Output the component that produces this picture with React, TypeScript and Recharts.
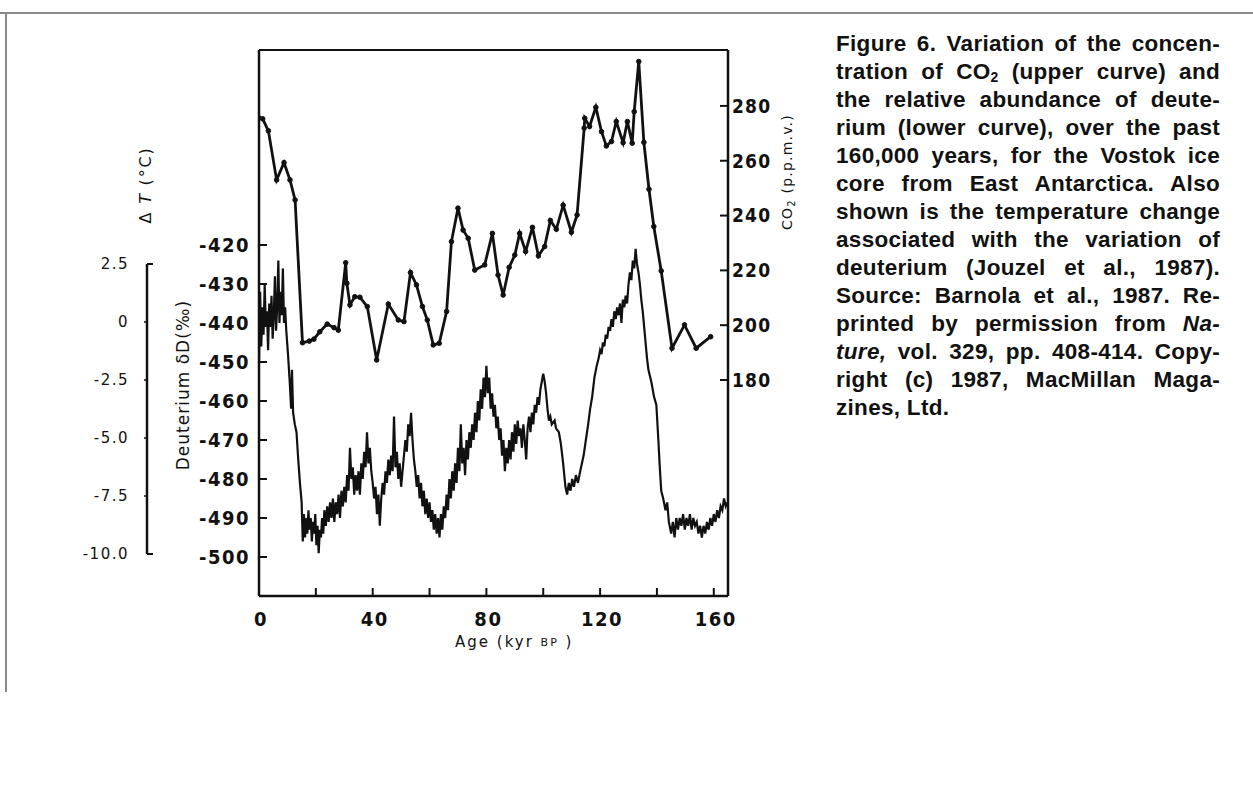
import React from 'react';
import { LineChart, Line, XAxis, YAxis } from 'recharts';

// ---------- DATA ----------
const co2Age = [0, 1.3, 3.3, 6.2, 8.8, 10.9, 12.7, 15.3, 17.7, 19.3, 21.4, 24, 26.4, 27.9, 30.5, 30.9, 32, 33.7, 35.5, 38.1, 41.4, 45.5, 49, 51, 53.3, 55.4, 57.5, 59.2, 61.3, 63.4, 66, 67.7, 70, 71.8, 73.6, 75.9, 79.4, 82.1, 84.1, 85.9, 88, 90, 91.7, 93.8, 96.2, 98.3, 100.5, 102.5, 104.6, 107, 109.9, 111.9, 114.4, 114.6, 116.3, 118.5, 120.5, 122.2, 124, 125.7, 128.1, 129.6, 131.3, 132, 133.6, 135.4, 137.2, 138.9, 141.5, 145.3, 149.7, 153.8, 158.9];
const co2Ppm = [275.6, 275.3, 270.9, 253, 259.3, 253, 245.7, 193.6, 194.2, 194.9, 197.6, 200.4, 199.1, 198.2, 222.8, 215.3, 207.4, 210.4, 210.2, 206.8, 187.3, 207.7, 201.9, 201.3, 219.2, 214.7, 206.8, 201.9, 192.8, 193.4, 205, 230.5, 242.7, 234.7, 231.7, 220.1, 222, 233.5, 218.3, 211, 221.1, 225.6, 233.5, 226.9, 235.7, 225.3, 228.7, 238.2, 235, 243.8, 233.9, 240.2, 271.9, 275.5, 272.5, 279.5, 270.6, 265.4, 267, 274.3, 266.6, 274.3, 266.4, 277.9, 296.2, 266.7, 249.6, 236, 219.8, 191.6, 200.1, 191.6, 195.8];

const deutAge = [
  0, 0.4, 0.8, 1.2, 1.6, 2, 2.4, 2.8, 3.2, 3.6, 4, 4.4, 4.8, 5.2, 5.6, 6, 6.4, 6.8, 7.2, 7.6, 8, 8.4, 8.8, 9.2, 9.6,
  10.2, 10.8, 11.3, 11.6, 12, 12.6, 13.2, 13.8, 14.4, 15, 15.4,
  15.8, 16.2, 16.6, 17, 17.4, 17.8, 18.2, 18.6, 19, 19.4, 19.8, 20.2, 20.6, 21, 21.4, 21.8, 22.2, 22.6, 23,
  23.5, 24, 24.5, 25, 25.5, 26, 26.5, 27, 27.5, 28, 28.5, 29, 29.5, 30, 30.5, 31, 31.5, 32, 32.5, 33, 33.5, 34, 34.5, 35, 35.5, 36, 36.5, 37, 37.5, 38, 38.5, 39, 39.5, 40,
  40.5, 41, 41.5, 42, 42.5, 43, 43.5, 44, 44.5, 45, 45.5, 46, 46.5, 47, 47.5, 48, 48.5, 49, 49.5, 50, 50.5, 51, 51.5, 52, 52.5, 53, 53.5, 54, 54.5, 55, 55.5, 56, 56.5, 57, 57.5, 58, 58.5, 59, 59.5, 60,
  60.5, 61, 61.5, 62, 62.5, 63, 63.5, 64, 64.5, 65, 65.5, 66, 66.5, 67, 67.5, 68, 68.5, 69, 69.5, 70, 70.5, 71, 71.5, 72, 72.5, 73, 73.5, 74, 74.5, 75, 75.5, 76, 76.5, 77, 77.5, 78, 78.5, 79, 79.5, 80,
  80.5, 81, 81.5, 82, 82.5, 83, 83.5, 84, 84.5, 85, 85.5, 86, 86.5, 87, 87.5, 88, 88.5, 89, 89.5, 90, 90.5, 91, 91.5, 92, 92.5, 93, 93.5, 94, 94.5, 95, 95.5, 96, 96.5, 97, 97.5, 98, 98.5, 99, 99.5, 100,
  100.5, 101, 101.5, 102, 102.5, 103, 104, 104.5, 105.5, 106.2, 107, 107.8, 108.4, 109, 109.6, 110.2, 110.8, 111.5, 112.2, 113, 113.6,
  114.2, 115, 115.8, 116.5, 117.2, 118, 118.8, 119.5, 120, 120.5, 121, 121.5, 122, 122.5, 123, 123.5, 124, 124.5, 125, 125.5, 126, 126.5, 127, 127.5, 128, 128.5, 129, 129.5, 130,
  130.5, 131, 131.5, 132, 132.5, 133, 133.5, 134, 134.5, 135, 135.5, 136, 136.5, 137, 138, 139, 139.8, 140.5, 141, 141.5, 142.2, 143, 143.6, 144.2, 145,
  145.6, 146.2, 146.8, 147.4, 148, 148.6, 149.2, 149.8, 150.4, 151, 151.6, 152.2, 152.8, 153.4, 154, 154.6, 155.2, 155.8, 156.4, 157, 157.6, 158.2, 158.8, 159.4, 160, 160.6, 161.2, 161.8, 162.4, 163, 163.6, 164.2, 164.8,
];
const deutPermil = [
  -450, -432, -446, -436, -443, -430, -441, -437, -447, -435, -441, -433, -444, -438, -428, -442, -436, -424, -440, -432, -438, -426, -440, -436, -442,
  -448, -455, -462, -452, -463, -466, -468, -475, -481, -486, -496,
  -489, -495, -490, -494, -488, -493, -490, -496, -491, -494, -489, -497, -492, -499, -493, -495, -490, -494, -488,
  -492, -487, -491, -486, -490, -485, -491, -486, -489, -484, -490, -483, -487, -482, -486, -479, -483, -472, -480, -477, -484, -479, -483, -478, -484, -476, -480, -473, -477, -468, -476, -472, -478, -481,
  -485, -482, -489, -484, -492, -485, -481, -484, -478, -481, -475, -479, -474, -478, -464, -477, -473, -480, -476, -482, -478, -474, -470, -473, -466, -469, -463, -470, -475, -478, -482, -479, -485, -481, -487, -483, -489, -485, -490, -486,
  -491, -488, -493, -489, -494, -490, -495, -489, -493, -487, -490, -484, -488, -480, -485, -478, -483, -476, -481, -472, -478, -466, -476, -472, -479, -470, -475, -468, -472, -466, -470, -463, -468, -460, -465, -457, -462, -454, -459, -451,
  -458, -454, -462, -458, -464, -461, -467, -464, -470, -467, -474, -470, -478, -472, -476, -470, -475, -468, -473, -466, -471, -465, -469, -467, -472, -466, -470, -475, -467, -464, -468, -463, -466, -461, -463, -459, -461, -457, -455, -453,
  -455, -458, -462, -465, -464, -466, -465, -467, -468, -471, -476, -482, -484, -481, -483, -480, -482, -479, -481, -478, -476,
  -474, -470, -466, -462, -459, -454, -451, -449, -447, -448, -445, -446, -443, -444, -441, -442, -439, -441, -437, -439, -436, -438, -435, -440, -434, -436, -433, -435, -430,
  -427, -429, -424, -426, -421, -425, -427, -430, -434, -437, -441, -445, -449, -452, -455, -459, -461, -470, -477, -483, -485, -488, -486, -491, -494,
  -491, -495, -490, -493, -490, -492, -489, -493, -490, -492, -489, -493, -490, -492, -491, -494, -492, -495, -492, -494, -491, -493, -490, -492, -489, -491, -488, -490, -487, -488, -485, -487, -486,
];

const ageTicks = [0, 20, 40, 60, 80, 100, 120, 140, 160];
const ageLabelEvery = 40;
const deutTicks = [-420, -430, -440, -450, -460, -470, -480, -490, -500];
const co2Ticks = [180, 200, 220, 240, 260, 280];
const dTTicks = [2.5, 0, -2.5, -5, -7.5, -10];

const captionLines = [
  'Figure 6. Variation of the concen-',
  'tration of CO|2| (upper curve) and',
  'the relative abundance of deute-',
  'rium (lower curve), over the past',
  '160,000 years, for the Vostok ice',
  'core from East Antarctica. Also',
  'shown is the temperature change',
  'associated with the variation of',
  'deuterium (Jouzel et al., 1987).',
  'Source: Barnola et al., 1987. Re-',
  'printed by permission from *Na-*',
  '*ture,* vol. 329, pp. 408-414. Copy-',
  'right (c) 1987, MacMillan Maga-',
  'zines, Ltd.',
];

const co2Data = co2Age.map((age, i) => ({ age, ppm: co2Ppm[i] }));
const deutData = deutAge.map((age, i) => ({ age, d: deutPermil[i] }));

// ---------- STYLE ----------
const TICK_FONT = "'Liberation Sans Narrow', 'DejaVu Sans Condensed', 'Liberation Sans', sans-serif";
const TITLE_FONT = "'DejaVu Sans', 'Liberation Sans', sans-serif";
const CAPTION_FONT = "'Liberation Sans', Arial, sans-serif";
const INK = '#111';

function DeutTick(props: any) {
  const { x, y, payload } = props;
  const ax = x + 11;
  return (
    <g>
      <line x1={ax} x2={ax + 8} y1={y} y2={y} stroke={INK} strokeWidth={2} />
      <text x={x + 2} y={y} dy="0.36em" textAnchor="end" fontFamily={TICK_FONT} fontWeight={700} fontSize={20} letterSpacing={1.5} fill={INK}>
        {String(payload.value)}
      </text>
    </g>
  );
}

function Co2Tick(props: any) {
  const { x, y, payload } = props;
  const ax = x - 4;
  return (
    <g>
      <line x1={ax - 8} x2={ax} y1={y} y2={y} stroke={INK} strokeWidth={2} />
      <text x={x} y={y} dy="0.36em" textAnchor="start" fontFamily={TICK_FONT} fontWeight={700} fontSize={19} letterSpacing={1.2} fill={INK}>
        {String(payload.value)}
      </text>
    </g>
  );
}

function AgeTick(props: any) {
  const { x, y, payload } = props;
  const ay = y - 16;
  const v = payload.value;
  return (
    <g>
      <line x1={x} x2={x} y1={ay - 8} y2={ay} stroke={INK} strokeWidth={2} />
      {v % ageLabelEvery === 0 ? (
        <text x={x + 2} y={y} dy="0.71em" textAnchor="middle" fontFamily={TICK_FONT} fontWeight={700} fontSize={20} letterSpacing={1.5} fill={INK}>
          {String(v)}
        </text>
      ) : null}
    </g>
  );
}

function DTTick(props: any) {
  const { x, y, payload } = props;
  const ax = x + 18;
  const v = payload.value;
  const isEnd = v === dTTicks[0] || v === dTTicks[dTTicks.length - 1];
  const label = v === 0 ? '0' : v.toFixed(1);
  return (
    <g>
      {isEnd ? (
        <line x1={ax} x2={ax + 6} y1={y} y2={y} stroke={INK} strokeWidth={2} />
      ) : (
        <line x1={ax - 3} x2={ax} y1={y} y2={y} stroke={INK} strokeWidth={1.5} />
      )}
      <text x={x} y={y} dy="0.36em" textAnchor="end" fontFamily={TITLE_FONT} fontSize={15} letterSpacing={1.5} fill={INK}>
        {label}
      </text>
    </g>
  );
}

function renderCaptionLine(line: string) {
  const parts: React.ReactNode[] = [];
  const re = /(\|[^|]+\||\*[^*]+\*)/g;
  let last = 0;
  let m: RegExpExecArray | null;
  let k = 0;
  while ((m = re.exec(line)) !== null) {
    if (m.index > last) parts.push(<span key={k++}>{line.slice(last, m.index)}</span>);
    const tok = m[0];
    if (tok[0] === '|') {
      parts.push(<sub key={k++} style={{ fontSize: '0.62em', verticalAlign: '-0.25em' }}>{tok.slice(1, -1)}</sub>);
    } else {
      parts.push(<i key={k++}>{tok.slice(1, -1)}</i>);
    }
    last = m.index + tok.length;
  }
  if (last < line.length) parts.push(<span key={k++}>{line.slice(last)}</span>);
  return parts;
}

export default function App() {
  return (
    <div style={{ position: 'absolute', left: 0, top: 0, width: 1253, height: 787, background: '#fff', overflow: 'hidden' }}>
      {/* page frame */}
      <div style={{ position: 'absolute', left: 0, top: 12, width: 1253, height: 2, background: '#8a8a8a' }} />
      <div style={{ position: 'absolute', left: 5, top: 12, width: 2, height: 680, background: '#8a8a8a' }} />

      <div style={{ position: 'absolute', left: 0, top: 0 }}>
        <LineChart width={1253} height={787} margin={{ top: 49, right: 465, bottom: 151, left: 0 }}>
          <XAxis
            dataKey="age"
            type="number"
            domain={[0, 165]}
            ticks={ageTicks}
            allowDataOverflow
            height={40}
            tickSize={0}
            tickMargin={16}
            tickLine={false}
            axisLine={{ stroke: INK, strokeWidth: 2.5 }}
            tick={<AgeTick />}
            interval={0}
            label={{
              content: () => (
                <text x={455} y={642} dominantBaseline="central" fontFamily={TITLE_FONT} fontSize={15} letterSpacing={2} fill={INK}>
                  <tspan>Age (kyr </tspan>
                  <tspan fontSize={11}>BP</tspan>
                  <tspan> )</tspan>
                </text>
              ),
            }}
          />
          <XAxis
            xAxisId="top"
            orientation="top"
            type="number"
            domain={[0, 165]}
            allowDataOverflow
            height={1}
            tick={false}
            tickLine={false}
            axisLine={{ stroke: INK, strokeWidth: 2 }}
          />
          <YAxis
            yAxisId="d"
            type="number"
            domain={[-510, -370]}
            ticks={deutTicks}
            allowDataOverflow
            width={259}
            tickSize={0}
            tickMargin={11}
            tickLine={false}
            axisLine={{ stroke: INK, strokeWidth: 2.5 }}
            tick={<DeutTick />}
            interval={0}
            label={{
              content: () => (
                <text x={183} y={385} transform="rotate(-90 183 385)" textAnchor="middle" dominantBaseline="central" fontFamily={TITLE_FONT} fontSize={17} letterSpacing={1} fill={INK}>
                  Deuterium δD(‰)
                </text>
              ),
            }}
          />
          <YAxis
            yAxisId="c"
            orientation="right"
            type="number"
            domain={[101.2, 300.4]}
            ticks={co2Ticks}
            allowDataOverflow
            width={60}
            tickSize={0}
            tickMargin={4}
            tickLine={false}
            axisLine={{ stroke: INK, strokeWidth: 2.5 }}
            tick={<Co2Tick />}
            interval={0}
            label={{
              content: () => (
                <text x={787} y={172} transform="rotate(-90 787 172)" textAnchor="middle" dominantBaseline="central" fontFamily={TITLE_FONT} fontSize={14} letterSpacing={1.2} fill={INK}>
                  <tspan>CO</tspan>
                  <tspan fontSize={10} dy={4}>2</tspan>
                  <tspan dy={-4}> (p.p.m.v.)</tspan>
                </text>
              ),
            }}
          />
          <Line
            data={deutData}
            yAxisId="d"
            dataKey="d"
            type="linear"
            stroke={INK}
            strokeWidth={2.2}
            dot={false}
            isAnimationActive={false}
          />
          <Line
            data={co2Data}
            yAxisId="c"
            dataKey="ppm"
            type="linear"
            stroke={INK}
            strokeWidth={2.8}
            dot={{ r: 2.3, fill: INK, stroke: INK, strokeWidth: 1 }}
            isAnimationActive={false}
          />
        </LineChart>
      </div>

      {/* temperature scale equivalent to deuterium */}
      <div style={{ position: 'absolute', left: 0, top: 0, pointerEvents: 'none' }}>
        <LineChart width={170} height={787} margin={{ top: 264, right: 0, bottom: 233, left: 0 }}>
          <XAxis dataKey="age" type="number" domain={[0, 1]} hide />
          <YAxis
            type="number"
            domain={[-10, 2.5]}
            ticks={dTTicks}
            allowDataOverflow
            width={147}
            tickSize={0}
            tickMargin={18}
            tickLine={false}
            axisLine={{ stroke: INK, strokeWidth: 2.5 }}
            tick={<DTTick />}
            interval={0}
            label={{
              content: () => (
                <text x={145} y={185} transform="rotate(-90 145 185)" textAnchor="middle" dominantBaseline="central" fontFamily={TITLE_FONT} fontSize={16} letterSpacing={1.8} fill={INK}>
                  <tspan>Δ </tspan>
                  <tspan fontStyle="italic">T</tspan>
                  <tspan> (°C)</tspan>
                </text>
              ),
            }}
          />
        </LineChart>
      </div>

      {/* caption */}
      <div style={{ position: 'absolute', left: 836, top: 30, width: 384, fontFamily: CAPTION_FONT, fontWeight: 700, fontSize: 22.5, letterSpacing: 0.3, color: INK }}>
        {captionLines.map((line, i) => (
          <div
            key={i}
            style={{
              height: 28,
              lineHeight: '28px',
              whiteSpace: 'nowrap',
              textAlign: i === captionLines.length - 1 ? 'left' : 'justify',
              textAlignLast: i === captionLines.length - 1 ? 'left' : 'justify',
            } as React.CSSProperties}
          >
            {renderCaptionLine(line)}
          </div>
        ))}
      </div>
    </div>
  );
}
